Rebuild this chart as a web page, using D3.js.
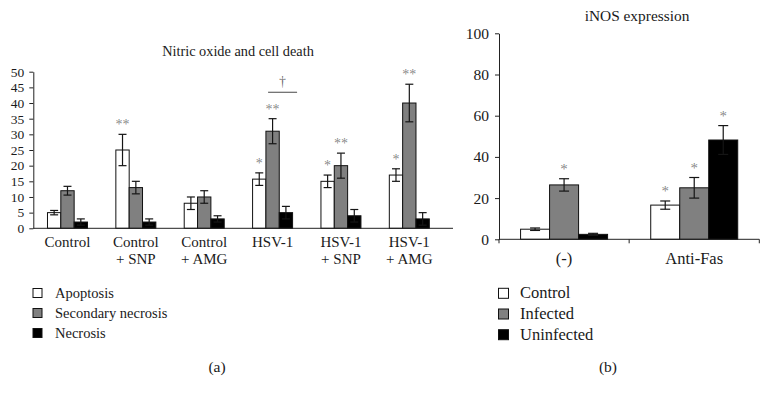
<!DOCTYPE html>
<html>
<head>
<meta charset="utf-8">
<script src="https://cdn.jsdelivr.net/npm/d3@7/dist/d3.min.js"></script>
<style>
  html, body { margin: 0; padding: 0; background: #fff; }
  svg { display: block; }
  text { font-family: "Liberation Serif", "Times New Roman", serif; fill: #1a1a1a; }
</style>
</head>
<body>
<svg id="chart" width="770" height="400"></svg>
<script>
// ---------- Panel (a) data ----------
const aCategories = ["Control", "Control + SNP", "Control + AMG", "HSV-1", "HSV-1 + SNP", "HSV-1 + AMG"];
const aSeriesNames = ["Apoptosis", "Secondary necrosis", "Necrosis"];
const apoptosis = [5, 25, 8, 15.7, 15, 17];
const apoptosisErr = [0.7, 5, 2, 2, 2, 2];
const secondaryNecrosis = [12, 13, 10, 31, 20, 40];
const secondaryNecrosisErr = [1.4, 2, 2, 4, 4, 6];
const necrosis = [2, 2, 3, 5, 4, 3];
const necrosisErr = [1, 1, 1, 2, 2, 2];
const apoptosisStars = ["", "**", "", "*", "*", "*"];
const secondaryStars = ["", "", "", "**", "**", "**"];
const necrosisStars = ["", "", "", "", "", ""];
const aTicks = [0, 5, 10, 15, 20, 25, 30, 35, 40, 45, 50];

// ---------- Panel (b) data ----------
const bCategories = ["(-)", "Anti-Fas"];
const bSeriesNames = ["Control", "Infected", "Uninfected"];
const bControl = [4.9, 16.6];
const bControlErr = [0.6, 2];
const bInfected = [26.4, 25];
const bInfectedErr = [3, 5];
const bUninfected = [2.4, 48.2];
const bUninfectedErr = [0.5, 7];
const bControlStars = ["", "*"];
const bInfectedStars = ["*", "*"];
const bUninfectedStars = ["", "*"];
const bTicks = [0, 20, 40, 60, 80, 100];

const fills = ["#ffffff", "#808080", "#000000"];
const svg = d3.select("#chart");

function drawPanel(cfg) {
  const g = svg.append("g");
  const y = d3.scaleLinear().domain(cfg.yDomain).range([cfg.y0, cfg.y1]);
  const x = d3.scaleBand().domain(cfg.categories).range([cfg.x0, cfg.x1]).padding(0);
  const xs = d3.scaleBand().domain(cfg.seriesNames).range([0, cfg.groupWidth]).padding(0);
  const offset = (x.bandwidth() - cfg.groupWidth) / 2;

  // bars
  cfg.series.forEach((s, si) => {
    const name = cfg.seriesNames[si];
    cfg.categories.forEach((c, ci) => {
      const v = s.values[ci], e = s.err[ci];
      const bx = x(c) + offset + xs(name);
      g.append("rect")
        .attr("x", bx).attr("y", y(v))
        .attr("width", xs.bandwidth()).attr("height", y(0) - y(v))
        .attr("fill", fills[si]).attr("stroke", "#111").attr("stroke-width", 1);
      const cx = bx + xs.bandwidth() / 2;
      const errCol = "#151515";
      g.append("line").attr("x1", cx).attr("x2", cx).attr("y1", y(v - e)).attr("y2", y(v + e))
        .attr("stroke", errCol).attr("stroke-width", 1.2);
      [v - e, v + e].forEach(t => {
        g.append("line").attr("x1", cx - cfg.cap / 2).attr("x2", cx + cfg.cap / 2)
          .attr("y1", y(t)).attr("y2", y(t)).attr("stroke", errCol).attr("stroke-width", 1.2);
      });
      if (s.stars[ci]) {
        g.append("text").attr("x", cx).attr("y", y(v + e) - 5)
          .attr("text-anchor", "middle").attr("font-size", cfg.starSize)
          .style("fill", "#000").style("fill-opacity", 0.5).text(s.stars[ci]);
      }
    });
  });

  // y axis
  const yAxis = g.append("g").attr("transform", `translate(${cfg.x0},0)`)
    .call(d3.axisLeft(y).tickValues(cfg.ticks).tickSize(4).tickPadding(cfg.tickPad).tickSizeOuter(0));
  yAxis.select(".domain").attr("stroke", "#222");
  yAxis.selectAll(".tick line").attr("stroke", "#222");
  yAxis.selectAll("text").attr("font-size", cfg.tickSize)
    .style("font-family", '"Liberation Serif", "Times New Roman", serif').style("fill", "#1a1a1a");

  // x axis line
  g.append("line").attr("x1", cfg.x0).attr("x2", cfg.xAxisEnd).attr("y1", y(0)).attr("y2", y(0))
    .attr("stroke", "#222").attr("stroke-width", 1);
  if (cfg.xTicks) {
    const bounds = cfg.categories.map(c => x(c)).concat([cfg.x1]);
    bounds.forEach(bx => {
      g.append("line").attr("x1", bx).attr("x2", bx).attr("y1", y(0)).attr("y2", y(0) + 4)
        .attr("stroke", "#222");
    });
  }

  // category labels
  cfg.categories.forEach(c => {
    const lines = c.split(" + ").map((t, i) => i > 0 ? "+ " + t : t);
    lines.forEach((t, i) => {
      g.append("text").attr("x", x(c) + x.bandwidth() / 2)
        .attr("y", cfg.labelY + i * cfg.labelStep)
        .attr("text-anchor", "middle").attr("font-size", cfg.labelSize).text(t);
    });
  });

  // title
  g.append("text").attr("x", cfg.titleX).attr("y", cfg.titleY)
    .attr("text-anchor", "middle").attr("font-size", cfg.titleSize).text(cfg.title);

  // legend
  cfg.seriesNames.forEach((n, i) => {
    g.append("rect").attr("x", cfg.legX).attr("y", cfg.legY + i * cfg.legStep)
      .attr("width", cfg.legBox).attr("height", cfg.legBox)
      .attr("fill", fills[i]).attr("stroke", "#111").attr("stroke-width", 1);
    g.append("text").attr("x", cfg.legTextX).attr("y", cfg.legY + i * cfg.legStep + cfg.legBox / 2 + 5)
      .attr("font-size", cfg.legSize).text(n);
  });

  // panel letter
  g.append("text").attr("x", cfg.letterX).attr("y", 372)
    .attr("text-anchor", "middle").attr("font-size", cfg.letterSize).text(cfg.letter);

  return { g, x, y };
}

// Panel (a)
const pa = drawPanel({
  categories: aCategories, seriesNames: aSeriesNames,
  series: [
    { values: apoptosis, err: apoptosisErr, stars: apoptosisStars },
    { values: secondaryNecrosis, err: secondaryNecrosisErr, stars: secondaryStars },
    { values: necrosis, err: necrosisErr, stars: necrosisStars }
  ],
  yDomain: [0, 50], y0: 228.3, y1: 71.7, x0: 33.3, x1: 443.5, xAxisEnd: 453,
  groupWidth: 40, cap: 8, starSize: 14, ticks: aTicks, tickSize: 13.5, tickPad: 5,
  xTicks: false, labelY: 246.5, labelStep: 17.6, labelSize: 15,
  title: "Nitric oxide and cell death", titleX: 238, titleY: 56, titleSize: 14.3,
  legX: 33, legY: 288.5, legStep: 20, legBox: 9, legTextX: 55, legSize: 14.5,
  letter: "(a)", letterX: 217, letterSize: 15.5
});

// significance dagger between HSV-1 groups
{
  const cx = pa.x("HSV-1") + pa.x.bandwidth() / 2;
  pa.g.append("line").attr("x1", cx - 4.5).attr("x2", cx + 24.5).attr("y1", 92.3).attr("y2", 92.3)
    .attr("stroke", "#666").attr("stroke-width", 1.2);
  pa.g.append("text").attr("x", cx + 10).attr("y", 86).attr("text-anchor", "middle")
    .attr("font-size", 14).style("fill", "#000").style("fill-opacity", 0.6).text("†");
}

// Panel (b)
drawPanel({
  categories: bCategories, seriesNames: bSeriesNames,
  series: [
    { values: bControl, err: bControlErr, stars: bControlStars },
    { values: bInfected, err: bInfectedErr, stars: bInfectedStars },
    { values: bUninfected, err: bUninfectedErr, stars: bUninfectedStars }
  ],
  yDomain: [0, 100], y0: 239.3, y1: 33.3, x0: 499, x1: 759.3, xAxisEnd: 759.3,
  groupWidth: 87, cap: 10, starSize: 15, ticks: bTicks, tickSize: 15.5, tickPad: 6,
  xTicks: true, labelY: 263.5, labelStep: 18, labelSize: 16.5,
  title: "iNOS expression", titleX: 637, titleY: 21, titleSize: 15.4,
  legX: 498.5, legY: 288.3, legStep: 20.7, legBox: 10, legTextX: 520, legSize: 16.5,
  letter: "(b)", letterX: 608, letterSize: 15.5
});
</script>
</body>
</html>
